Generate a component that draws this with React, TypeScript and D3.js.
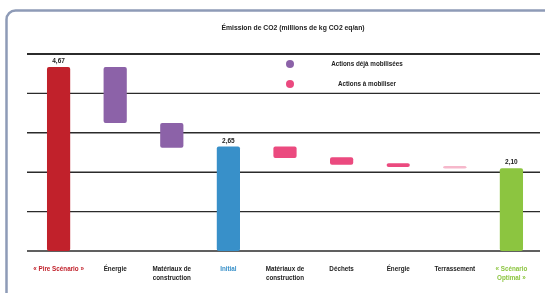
import React from 'react';
import * as d3 from 'd3';

const categories = [
  'pire', 'energie1', 'materiaux1', 'initial', 'materiaux2', 'dechets', 'energie2', 'terrassement', 'optimal',
];
const labelLines = [
  ['« Pire Scénario »'],
  ['Énergie'],
  ['Matériaux de', 'construction'],
  ['Initial'],
  ['Matériaux de', 'construction'],
  ['Déchets'],
  ['Énergie'],
  ['Terrassement'],
  ['« Scénario', 'Optimal »'],
];
// bottom and top of each floating bar (millions de kg CO2 eq/an)
const lows = [0, 3.25, 2.62, 0, 2.36, 2.19, 2.13, 2.1, 0];
const highs = [4.67, 4.67, 3.25, 2.65, 2.65, 2.38, 2.23, 2.16, 2.1];
const valueLabels = ['4,67', '', '', '2,65', '', '', '', '', '2,10'];
const kinds = ['total', 'mobilisee', 'mobilisee', 'initial', 'amobiliser', 'amobiliser', 'amobiliser', 'leger', 'optimal'];
const yTicks = [0, 1, 2, 3, 4, 5];

const colors: Record<string, string> = {
  total: '#c1212b',
  mobilisee: '#8c62a8',
  initial: '#3890c9',
  amobiliser: '#eb4a7f',
  leger: '#f6b8cb',
  optimal: '#8cc540',
};
const labelColors: Record<string, string> = {
  total: '#c1212b',
  initial: '#3890c9',
  optimal: '#8cc540',
};

const legend = [
  { label: 'Actions déjà mobilisées', color: '#8c62a8' },
  { label: 'Actions à mobiliser', color: '#eb4a7f' },
];

const W = 545;
const H = 293;
const font = 'Liberation Sans, Arial, sans-serif';

export default function App() {
  const x = d3.scaleBand<string>().domain(categories).range([30, 540]).paddingInner(0.59).paddingOuter(0.3);
  const y = d3.scaleLinear().domain([0, 5]).range([251, 54]);

  return (
    <>
      <style>{`body{margin:0}`}</style>
      <svg width={W} height={H} style={{ display: 'block', filter: 'blur(0.35px)' }} fontFamily={font}>
        <rect x={0} y={0} width={W} height={H} fill="#fff" />
        <rect x={6.5} y={10.5} width={580} height={320} rx={9} fill="none" stroke="#8e9bb7" strokeWidth={2.5} />

        <text x={293} y={30} textAnchor="middle" fontSize={6.8} fontWeight="bold" fill="#222">
          Émission de CO2 (millions de kg CO2 eq/an)
        </text>

        {yTicks.map((t) => (
          <line key={t} x1={27} x2={540} y1={y(t)} y2={y(t)} stroke="#2b2b2b" strokeWidth={t === 5 ? 1.8 : 1.4} />
        ))}

        {categories.map((c, i) => (
          <rect
            key={c}
            x={x(c)}
            y={y(highs[i])}
            width={x.bandwidth()}
            height={Math.max(2.5, y(lows[i]) - y(highs[i]))}
            rx={2}
            fill={colors[kinds[i]]}
          />
        ))}

        {categories.map((c, i) =>
          valueLabels[i] ? (
            <text
              key={c}
              x={(x(c) ?? 0) + x.bandwidth() / 2}
              y={y(highs[i]) - 4}
              textAnchor="middle"
              fontSize={6.5}
              fontWeight="bold"
              fill="#222"
            >
              {valueLabels[i]}
            </text>
          ) : null
        )}

        {categories.map((c, i) => (
          <text
            key={c}
            x={(x(c) ?? 0) + x.bandwidth() / 2}
            y={271}
            textAnchor="middle"
            fontSize={6.3}
            fontWeight="bold"
            fill={labelColors[kinds[i]] ?? '#222'}
          >
            {labelLines[i].map((l, j) => (
              <tspan key={j} x={(x(c) ?? 0) + x.bandwidth() / 2} dy={j === 0 ? 0 : 9}>
                {l}
              </tspan>
            ))}
          </text>
        ))}

        {legend.map((d, i) => (
          <g key={d.label} transform={`translate(290, ${64 + i * 20})`}>
            <circle r={4} fill={d.color} />
            <text x={77} y={2.3} textAnchor="middle" fontSize={6.3} fontWeight="bold" fill="#222">
              {d.label}
            </text>
          </g>
        ))}
      </svg>
    </>
  );
}
